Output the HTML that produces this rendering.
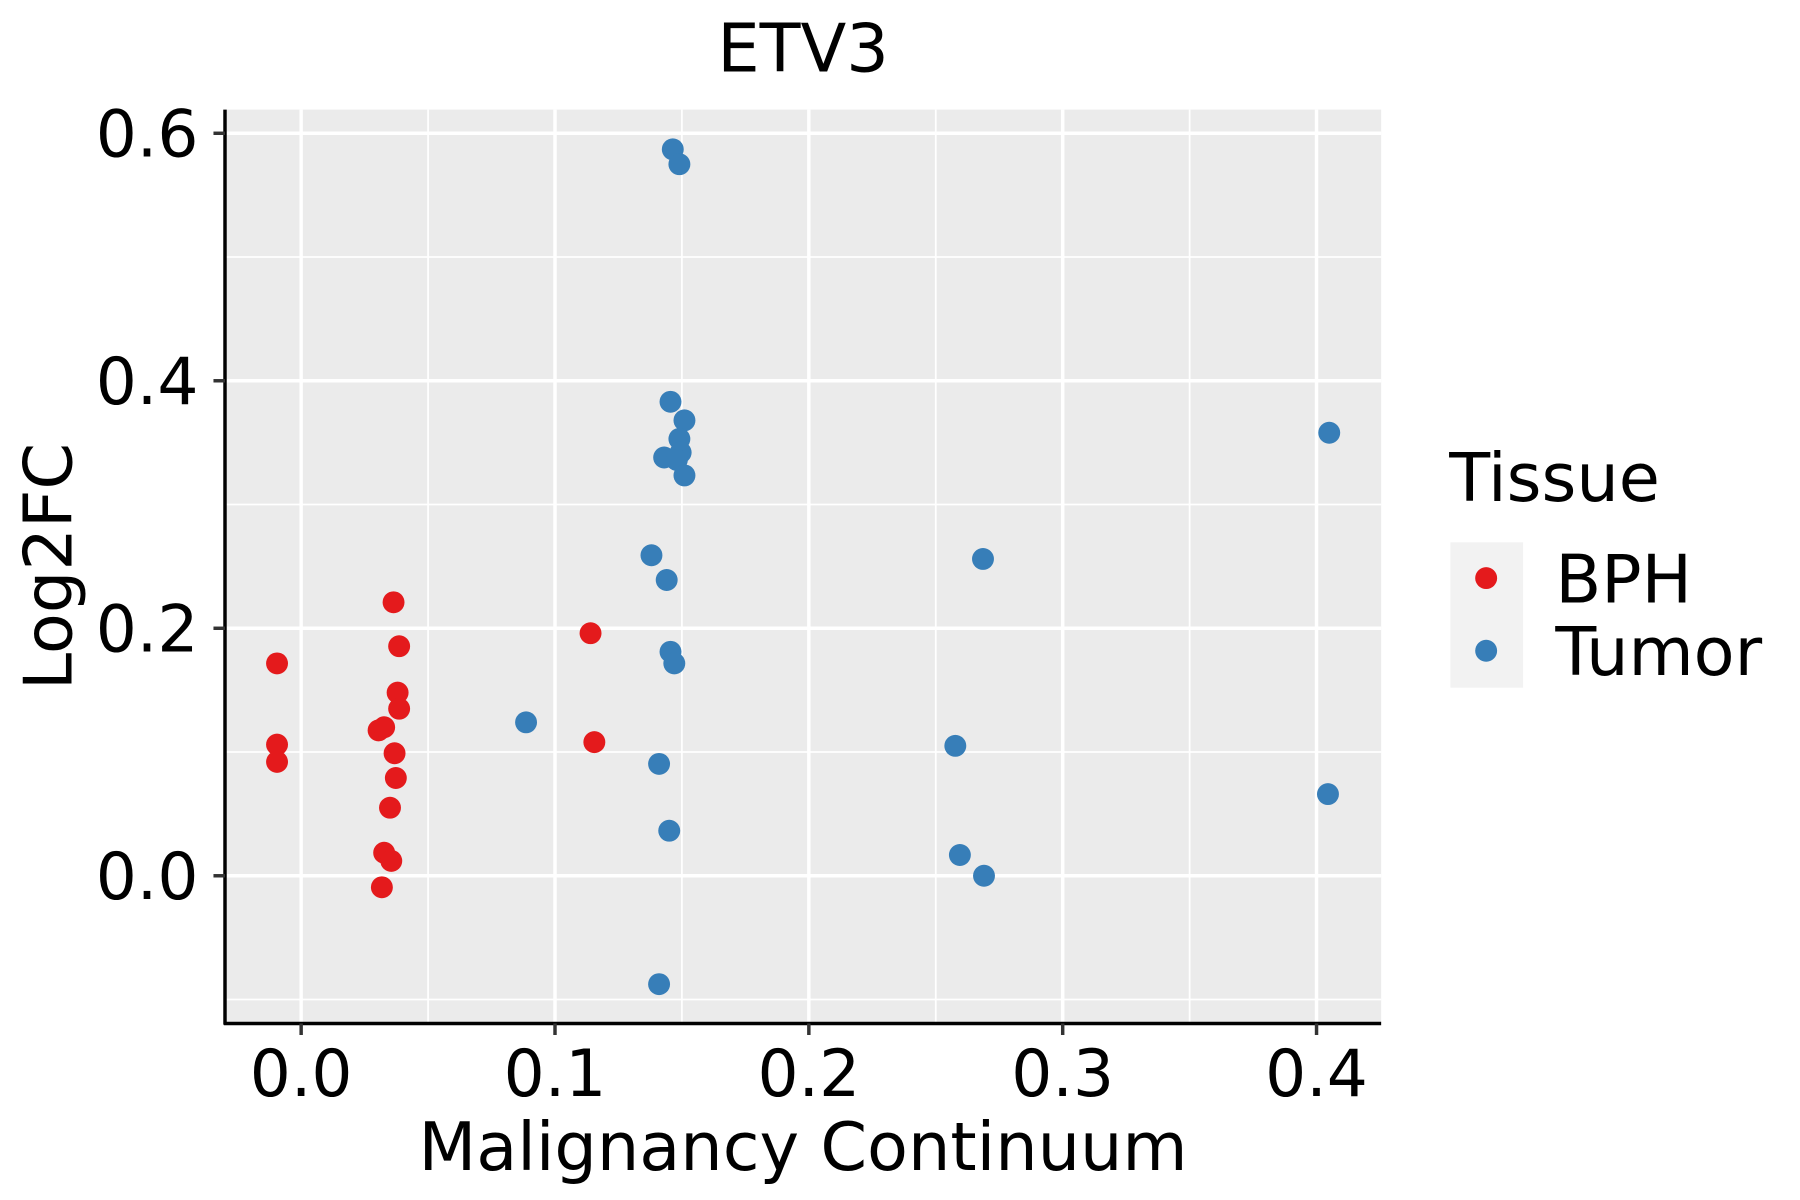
<!DOCTYPE html>
<html><head><meta charset="utf-8"><style>
html,body{margin:0;padding:0;background:#fff;}
svg{display:block;font-family:"DejaVu Sans","Liberation Sans",sans-serif;}
</style></head><body>
<svg id="chart" width="1800" height="1200" viewBox="0 0 1560 1040" xmlns="http://www.w3.org/2000/svg">
<rect width="1560" height="1040" fill="#fff"/>
<text x="696" y="62" font-size="58" text-anchor="middle">ETV3</text>
<rect x="195" y="95" width="1002" height="792" fill="#EBEBEB"/>
<g id="grid"></g>
<g id="points"></g>
<line x1="195" y1="95" x2="195" y2="888" stroke="#000" stroke-width="3"/>
<line x1="194" y1="887" x2="1197" y2="887" stroke="#000" stroke-width="3"/>
<g id="ticks"></g>
<text x="696" y="1014" font-size="58" text-anchor="middle">Malignancy Continuum</text>
<text transform="translate(62,491) rotate(-90)" font-size="58" text-anchor="middle">Log2FC</text>
<g>
<text x="1256" y="434" font-size="58">Tissue</text>
<rect x="1257" y="470" width="63" height="126" fill="#F2F2F2"/>
<circle cx="1288" cy="501" r="9.5" fill="#E41A1C"/>
<circle cx="1288" cy="564" r="9.5" fill="#377EB8"/>
<text x="1348" y="522" font-size="58">BPH</text>
<text x="1348" y="585" font-size="58">Tumor</text>
</g>
</svg>
<script>
const xTicks=[0.0,0.1,0.2,0.3,0.4];
const xTickLabels=["0.0","0.1","0.2","0.3","0.4"];
const yTicks=[0.0,0.2,0.4,0.6];
const yTickLabels=["0.0","0.2","0.4","0.6"];
const bphX=[-0.0095,-0.0095,-0.0095,0.0364,0.0386,0.038,0.0386,0.0305,0.0327,0.0368,0.0373,0.035,0.0327,0.0355,0.0318,0.114,0.1155];
const bphY=[0.1716,0.106,0.092,0.221,0.1855,0.148,0.135,0.1175,0.120,0.099,0.079,0.055,0.0186,0.012,-0.0093,0.196,0.108];
const tumorX=[0.1464,0.149,0.1455,0.151,0.149,0.1495,0.143,0.148,0.151,0.138,0.144,0.1455,0.147,0.0886,0.141,0.145,0.141,0.2577,0.2595,0.269,0.2686,0.405,0.4045];
const tumorY=[0.587,0.575,0.383,0.368,0.353,0.342,0.338,0.336,0.3235,0.259,0.239,0.181,0.1716,0.124,0.0904,0.0364,-0.0876,0.105,0.0168,0.0,0.256,0.358,0.066];
const NS="http://www.w3.org/2000/svg";
const sx=v=>261+v*2200;
const sy=v=>759-v*1072.5;
function mk(tag,attrs,parent){const e=document.createElementNS(NS,tag);for(const k in attrs)e.setAttribute(k,attrs[k]);parent.appendChild(e);return e;}
const grid=document.getElementById('grid'),ticks=document.getElementById('ticks'),pts=document.getElementById('points');
for(let i=0;i<xTicks.length;i++){
  const x=sx(xTicks[i]);
  const l=mk('line',{x1:x,x2:x,y1:95,y2:887,stroke:'#fff','stroke-width':3},grid);
  
  
  if(i<xTicks.length-1){const xm=sx((xTicks[i]+xTicks[i+1])/2);
    const m=mk('line',{x1:xm,x2:xm,y1:95,y2:887,stroke:'#fff','stroke-width':1.5},grid);
    
    }
  const t=mk('line',{x1:x,x2:x,y1:887,y2:897,stroke:'#333','stroke-width':3},ticks);
  
  
  const tx=mk('text',{x:x,y:950,'font-size':56,'text-anchor':'middle'},ticks);
  tx.textContent=xTickLabels[i];
  
  
}
const yMinor=[-0.1,0.1,0.3,0.5];
for(const v of yMinor){
  const m=mk('line',{x1:195,x2:1197,y1:sy(v),y2:sy(v),stroke:'#fff','stroke-width':1.5},grid);
  
  
}
for(let i=0;i<yTicks.length;i++){
  const y=sy(yTicks[i]);
  const l=mk('line',{x1:195,x2:1197,y1:y,y2:y,stroke:'#fff','stroke-width':3},grid);
  
  
  const t=mk('line',{x1:185,x2:195,y1:y,y2:y,stroke:'#333','stroke-width':3},ticks);
  
  
  const tx=mk('text',{x:172,y:y+20,'font-size':56,'text-anchor':'end'},ticks);
  tx.textContent=yTickLabels[i];
  
  
}
for(let i=0;i<bphX.length;i++){
  const c=mk('circle',{cx:sx(bphX[i]),cy:sy(bphY[i]),r:9.5,fill:'#E41A1C'},pts);
  
  
}
for(let i=0;i<tumorX.length;i++){
  const c=mk('circle',{cx:sx(tumorX[i]),cy:sy(tumorY[i]),r:9.5,fill:'#377EB8'},pts);
  
  
}
</script>
</body></html>
